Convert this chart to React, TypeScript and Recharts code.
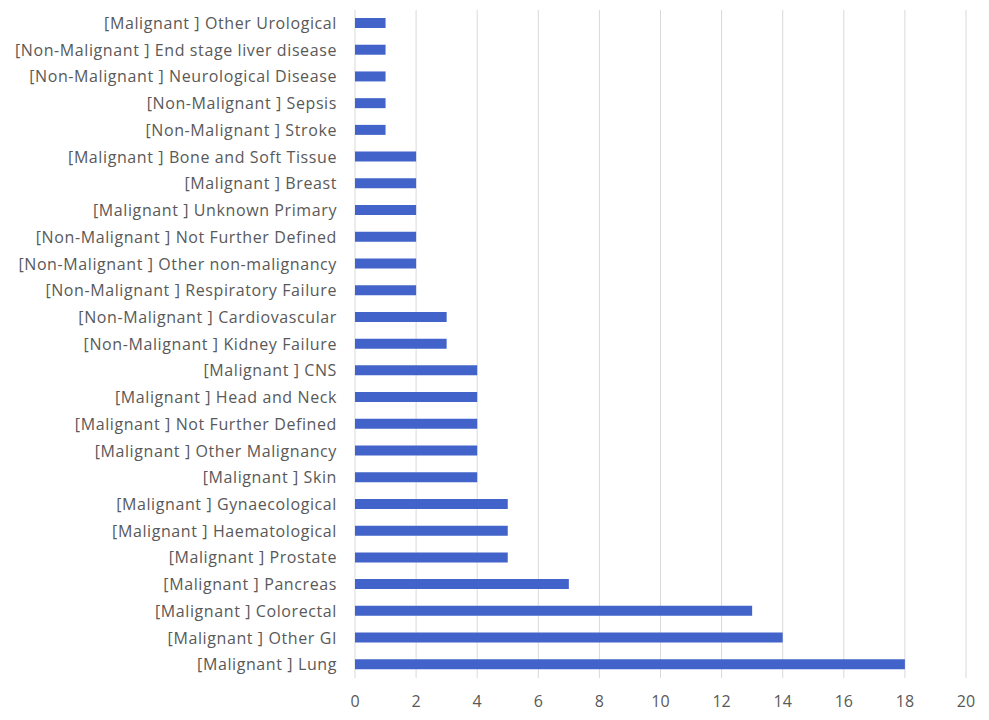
import React from 'react';
import { BarChart, Bar, XAxis, YAxis, CartesianGrid } from 'recharts';

// categories, top to bottom as drawn
const categories = [
  '[Malignant ] Other Urological',
  '[Non-Malignant ] End stage liver disease',
  '[Non-Malignant ] Neurological Disease',
  '[Non-Malignant ] Sepsis',
  '[Non-Malignant ] Stroke',
  '[Malignant ] Bone and Soft Tissue',
  '[Malignant ] Breast',
  '[Malignant ] Unknown Primary',
  '[Non-Malignant ] Not Further Defined',
  '[Non-Malignant ] Other non-malignancy',
  '[Non-Malignant ] Respiratory Failure',
  '[Non-Malignant ] Cardiovascular',
  '[Non-Malignant ] Kidney Failure',
  '[Malignant ] CNS',
  '[Malignant ] Head and Neck',
  '[Malignant ] Not Further Defined',
  '[Malignant ] Other Malignancy',
  '[Malignant ] Skin',
  '[Malignant ] Gynaecological',
  '[Malignant ] Haematological',
  '[Malignant ] Prostate',
  '[Malignant ] Pancreas',
  '[Malignant ] Colorectal',
  '[Malignant ] Other GI',
  '[Malignant ] Lung',
];

const counts = [1, 1, 1, 1, 1, 2, 2, 2, 2, 2, 2, 3, 3, 4, 4, 4, 4, 4, 5, 5, 5, 7, 13, 14, 18];

const xTicks = [0, 2, 4, 6, 8, 10, 12, 14, 16, 18, 20];

const data = categories.map((name, i) => ({ name, value: counts[i] }));

const yTickStyle = {
  fill: '#595959',
  fontSize: 16,
  letterSpacing: 0.6,
  fontFamily: 'Open Sans, sans-serif',
};
const xTickStyle = { fill: '#595959', fontSize: 16, fontFamily: 'Open Sans, sans-serif' };

export default function App() {
  return (
    <div style={{ position: 'absolute', left: 0, top: 0, background: '#fff' }}>
      <BarChart
        width={989}
        height={720}
        data={data}
        layout="vertical"
        margin={{ top: 10, right: 23, bottom: 12, left: 0 }}
      >
        <CartesianGrid horizontal={false} stroke="#d9d9d9" />
        <XAxis
          type="number"
          domain={[0, 20]}
          ticks={xTicks}
          axisLine={false}
          tickLine={false}
          tickMargin={12}
          height={30}
          tick={xTickStyle}
        />
        <YAxis
          type="category"
          dataKey="name"
          width={355}
          axisLine={false}
          tickLine={false}
          tickMargin={12}
          interval={0}
          tick={yTickStyle}
        />
        <Bar dataKey="value" fill="#4263c9" barSize={10} isAnimationActive={false} />
      </BarChart>
    </div>
  );
}
